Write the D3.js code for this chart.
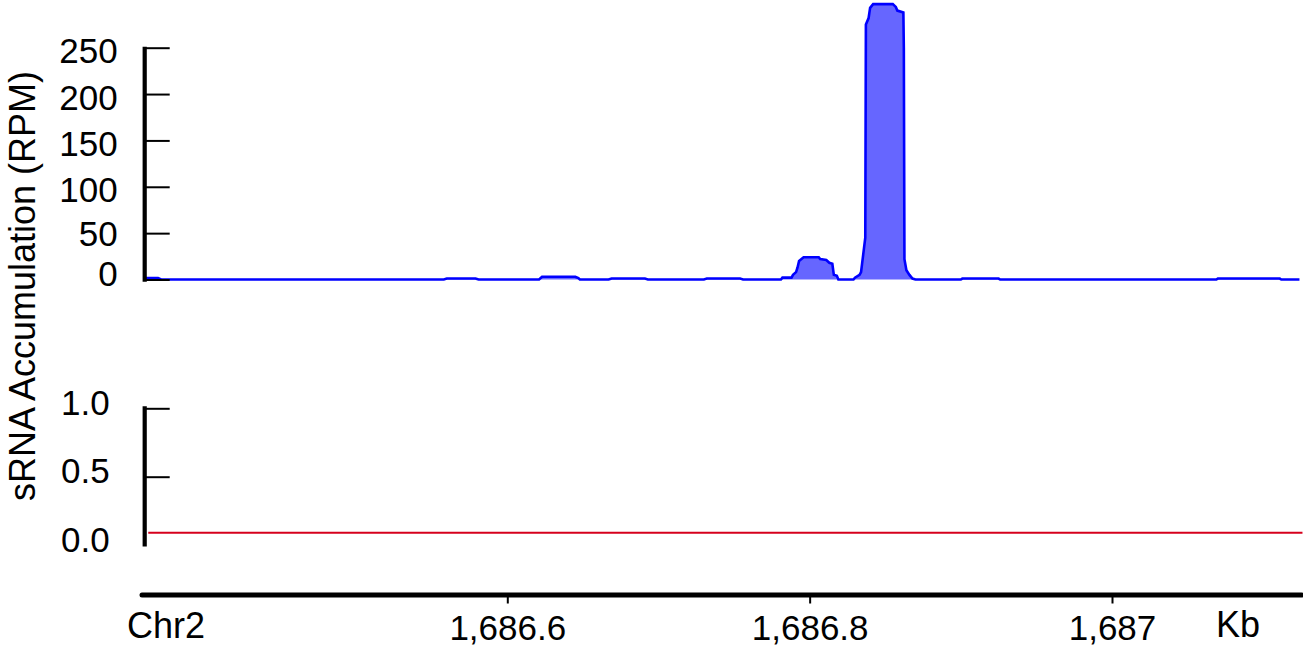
<!DOCTYPE html>
<html>
<head>
<meta charset="utf-8">
<script src="https://cdn.jsdelivr.net/npm/d3@7"></script>
<style>
  html, body { margin: 0; padding: 0; background: #fff; }
  svg { display: block; font-family: "Liberation Sans", Arial, Helvetica, sans-serif; }
</style>
</head>
<body>
<svg id="chart" width="1303" height="649"></svg>
<script>
// ---- data ----
// sRNA coverage profile (position in Kb, RPM)
const positions = [
  1686.361, 1686.369, 1686.371,
  1686.558, 1686.560, 1686.579, 1686.581,
  1686.621, 1686.623, 1686.645, 1686.647, 1686.648,
  1686.667, 1686.669, 1686.691, 1686.693,
  1686.730, 1686.732, 1686.754, 1686.756,
  1686.781, 1686.782, 1686.788, 1686.789, 1686.791, 1686.792, 1686.793, 1686.796,
  1686.806, 1686.807, 1686.811, 1686.813, 1686.815, 1686.816, 1686.818, 1686.819,
  1686.829, 1686.830, 1686.833, 1686.834, 1686.8368, 1686.8372, 1686.839, 1686.840, 1686.842,
  1686.855, 1686.857, 1686.858, 1686.862, 1686.8623, 1686.8627, 1686.864, 1686.866, 1686.868, 1686.870,
  1686.900, 1686.901, 1686.925, 1686.926,
  1687.069, 1687.070, 1687.111, 1687.112, 1687.124
];
const rpm = [
  1.5, 1.5, 0,
  0, 1, 1, 0,
  0, 3, 3, 1.5, 0,
  0, 1, 1, 0,
  0, 1, 1, 0,
  0, 2, 2, 5, 8, 13, 20, 24,
  24, 22, 21, 18, 17, 5, 4, 0,
  0, 2, 5, 8, 45, 275, 282, 293, 297,
  297, 294, 290, 288, 250, 22, 10, 5, 1, 0,
  0, 1, 1, 0,
  0, 1, 1, 0, 0
];
// second track (constant line)
const track2Positions = [1686.3625, 1687.126];
const track2Values = [0.09, 0.09];

const topTicks = [0, 50, 100, 150, 200, 250];
const bottomTicks = [0, 0.5, 1.0];
const xTicks = [1686.6, 1686.8, 1687];
const yTitle = "sRNA Accumulation (RPM)";
const chromLabel = "Chr2";
const unitLabel = "Kb";

// ---- scales ----
const svg = d3.select("#chart");
const x = d3.scaleLinear().domain([1686.6, 1687]).range([507.3, 1112]);
const yTop = d3.scaleLinear().domain([0, 250]).range([279.5, 47.7]);
const yBot = d3.scaleLinear().domain([0, 1]).range([545.1, 408.3]);
const FONT = 35;

// ---- top track ----
const pts = positions.map((p, i) => [p, rpm[i]]);
const area = d3.area().x(d => x(d[0])).y0(yTop(0)).y1(d => yTop(d[1]));
const line = d3.line().x(d => x(d[0])).y(d => yTop(d[1]));
svg.append("path").datum(pts).attr("d", area).attr("fill", "#6666ff");
svg.append("path").datum(pts).attr("d", line)
  .attr("fill", "none").attr("stroke", "#0000ff").attr("stroke-width", 2.6)
  .attr("stroke-linejoin", "miter");

const topAxis = svg.append("g").attr("transform", "translate(144.7,0)")
  .call(d3.axisLeft(yTop).tickValues(topTicks).tickSizeInner(-25).tickSizeOuter(0).tickPadding(27));
topAxis.select(".domain").remove();
topAxis.selectAll(".tick line").attr("stroke", "#000").attr("stroke-width", 2);
topAxis.selectAll(".tick text")
  .attr("font-size", FONT).attr("fill", "#000")
  .attr("font-family", "Liberation Sans, Arial, sans-serif")
  .attr("dy", d => d === 0 ? "0.18em" : d === 50 ? "0.36em" : "0.43em");
svg.append("line").attr("x1", 144.7).attr("x2", 144.7)
  .attr("y1", yTop(250) - 1).attr("y2", yTop(0) + 2.2)
  .attr("stroke", "#000").attr("stroke-width", 4.2);

// ---- bottom track ----
const botAxis = svg.append("g").attr("transform", "translate(144.7,0)")
  .call(d3.axisLeft(yBot).tickValues(bottomTicks).tickFormat(d3.format(".1f"))
    .tickSizeInner(-25).tickSizeOuter(0).tickPadding(35));
botAxis.select(".domain").remove();
botAxis.selectAll(".tick line").attr("stroke", "#000").attr("stroke-width", 2)
  .attr("opacity", d => d === 0 ? 0 : 1);
botAxis.selectAll(".tick text")
  .attr("font-size", FONT).attr("fill", "#000")
  .attr("font-family", "Liberation Sans, Arial, sans-serif")
  .attr("dy", "0.17em");
svg.append("line").attr("x1", 144.7).attr("x2", 144.7)
  .attr("y1", yBot(1) - 2).attr("y2", yBot(0) + 1.5)
  .attr("stroke", "#000").attr("stroke-width", 4.2);

const redPts = track2Positions.map((p, i) => [p, track2Values[i]]);
svg.append("path").datum(redPts)
  .attr("d", d3.line().x(d => x(d[0])).y(d => yBot(d[1])))
  .attr("fill", "none").attr("stroke", "#d6001c").attr("stroke-width", 2);

// ---- x axis ----
const xAxisY = 595;
const xAxis = svg.append("g").attr("transform", `translate(0,${xAxisY})`)
  .call(d3.axisBottom(x).tickValues(xTicks).tickFormat(d3.format(","))
    .tickSizeInner(8.5).tickSizeOuter(0).tickPadding(12));
xAxis.select(".domain").remove();
xAxis.selectAll(".tick line").attr("stroke", "#000").attr("stroke-width", 2);
xAxis.selectAll(".tick text")
  .attr("font-size", FONT).attr("fill", "#000")
  .attr("font-family", "Liberation Sans, Arial, sans-serif");
svg.append("line").attr("x1", 142).attr("x2", 1301.5)
  .attr("y1", xAxisY).attr("y2", xAxisY)
  .attr("stroke", "#000").attr("stroke-width", 5).attr("stroke-linecap", "round");

svg.append("text").attr("x", 127).attr("y", 638)
  .attr("font-size", FONT + 1).attr("fill", "#000").text(chromLabel);
svg.append("text").attr("x", 1216).attr("y", 637)
  .attr("font-size", FONT + 1).attr("fill", "#000").text(unitLabel);

// ---- y title ----
svg.append("text")
  .attr("transform", "translate(35,286) rotate(-90)")
  .attr("text-anchor", "middle")
  .attr("font-size", 36).attr("fill", "#000")
  .text(yTitle);
</script>
</body>
</html>
